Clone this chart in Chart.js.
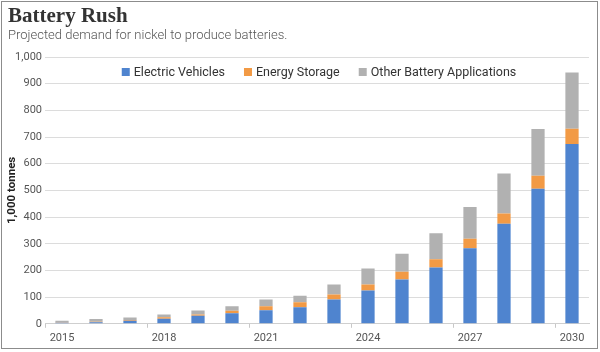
<!DOCTYPE html>
<html>
<head>
<meta charset="utf-8">
<script src="https://cdn.jsdelivr.net/npm/chart.js@4"></script>
<style>
  html, body { margin: 0; padding: 0; background: #fff; }
  #wrap { position: relative; width: 600px; height: 352px; overflow: hidden; }
  #frame { position: absolute; left: 1px; top: 1px; width: 595px; height: 346px; border: 1px solid #8c8c8c; pointer-events: none; }
  #title { position: absolute; left: 8px; top: 3px; font-family: "Liberation Serif", serif; font-weight: bold; font-size: 21px; color: #333; }
  #subtitle { position: absolute; left: 8px; top: 27px; font-family: Roboto, sans-serif; font-weight: 300; font-size: 13px; color: #555; }
  canvas { position: absolute; left: 0; top: 0; }
</style>
</head>
<body>
<div id="wrap">
  <canvas id="c" width="600" height="352"></canvas>
  <div id="title">Battery Rush</div>
  <div id="subtitle">Projected demand for nickel to produce batteries.</div>
  <div id="frame"></div>
</div>
<script>
const years = ["2015","2016","2017","2018","2019","2020","2021","2022","2023","2024","2025","2026","2027","2028","2029","2030"];
const electricVehicles = [4, 6, 11, 19, 30, 40, 51, 62, 91, 125, 166, 211, 283, 375, 506, 674];
const energyStorage    = [1, 2, 3, 6, 5, 9, 15, 19, 19, 22, 29, 31, 36, 38, 49, 57];
const otherBattery     = [6, 10, 10, 10, 15, 17, 25, 24, 37, 60, 68, 97, 119, 150, 175, 211];
const seriesNames = ["Electric Vehicles", "Energy Storage", "Other Battery Applications"];
const seriesColors = ["#4f84cf", "#f29a45", "#b1b1b1"];

const legendPlugin = {
  id: 'customLegend',
  afterDraw(chart) {
    const ctx = chart.ctx;
    const area = chart.chartArea;
    ctx.save();
    ctx.font = '12.5px Roboto, sans-serif';
    ctx.textBaseline = 'middle';
    const box = 8, boxGap = 4, itemGap = 19;
    const widths = seriesNames.map(n => box + boxGap + ctx.measureText(n).width);
    const total = widths.reduce((a, b) => a + b, 0) + itemGap * (widths.length - 1);
    let x = (area.left + area.right) / 2 + 2 - total / 2;
    const y = 72;
    seriesNames.forEach((n, i) => {
      ctx.fillStyle = seriesColors[i];
      ctx.fillRect(x, y - box / 2, box, box);
      ctx.fillStyle = '#333';
      ctx.fillText(n, x + box + boxGap, y + 0.5);
      x += widths[i] + itemGap;
    });
    ctx.restore();
  }
};

new Chart(document.getElementById('c'), {
  type: 'bar',
  data: {
    labels: years,
    datasets: [
      { label: seriesNames[0], data: electricVehicles, backgroundColor: seriesColors[0] },
      { label: seriesNames[1], data: energyStorage, backgroundColor: seriesColors[1] },
      { label: seriesNames[2], data: otherBattery, backgroundColor: seriesColors[2] }
    ]
  },
  options: {
    responsive: false,
    animation: false,
    devicePixelRatio: 1,
    layout: { padding: { top: 57, right: 11, bottom: 3, left: 0 } },
    datasets: { bar: { categoryPercentage: 1, barPercentage: 0.39 } },
    plugins: {
      legend: { display: false },
      tooltip: { enabled: false },
      title: { display: false }
    },
    scales: {
      x: {
        stacked: true,
        grid: {
          drawOnChartArea: false,
          drawTicks: true,
          tickLength: 4,
          offset: true,
          color: (c) => (c.index % 3 === 0 ? '#c8c8c8' : 'rgba(0,0,0,0)')
        },
        border: { display: true, color: '#cfcfcf', width: 1 },
        ticks: {
          autoSkip: false,
          maxRotation: 0,
          padding: 4,
          color: '#555',
          font: { family: 'Roboto, sans-serif', size: 11 },
          callback: function (v, i) { return i % 3 === 0 ? years[i] : ''; }
        }
      },
      y: {
        stacked: true,
        min: 0,
        max: 1000,
        afterFit: (s) => { s.width = 45; },
        ticks: {
          stepSize: 100,
          padding: 3,
          color: '#555',
          font: { family: 'Roboto, sans-serif', size: 11 },
          callback: (v) => v.toLocaleString('en-US')
        },
        grid: { color: '#dcdcdc', drawTicks: false },
        border: { display: false },
        title: {
          display: true,
          text: '1,000 tonnes',
          color: '#222',
          font: { family: 'Roboto, sans-serif', size: 11.5, weight: 'bold' },
          padding: { top: 5, bottom: 0 }
        }
      }
    }
  },
  plugins: [legendPlugin]
});
</script>
</body>
</html>
